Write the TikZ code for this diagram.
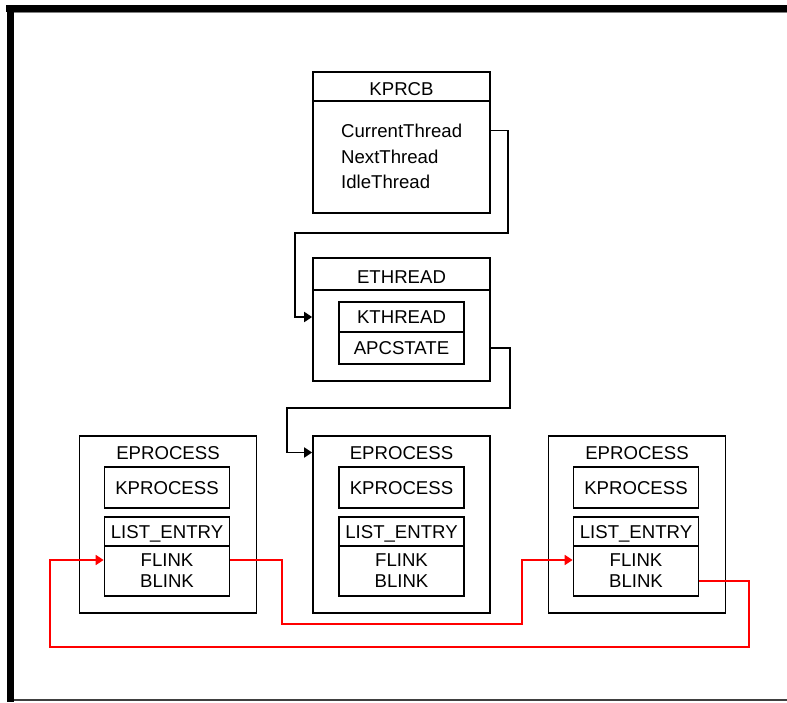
\documentclass[tikz,border=0pt]{standalone}
\usepackage{fontspec}
\setmainfont{Liberation Sans}
\usetikzlibrary{arrows.meta}
\begin{document}
\begin{tikzpicture}[
    x=1pt, y=-1pt,
    every node/.style={font=\fontsize{18.6}{20}\selectfont, text height=13pt, text depth=0pt, inner sep=0pt},
    struct/.style={draw, line width=1.7pt, minimum width=177pt},
    field/.style={draw, line width=1.7pt, minimum width=125pt},
    member/.style={anchor=west},
    ptr/.style={line width=1.7pt, -{Triangle[length=8pt,width=10pt]}},
    link/.style={ptr, red}]
  \useasboundingbox (0,0) rectangle (787,702);
  % window frame
  \fill (6,5) rectangle (787,12);
  \fill (7,5) rectangle (14,702);
  \draw[line width=0.8pt, gray] (14,12.6) -- (787,12.6);
  \draw[line width=1.5pt, black!75] (14,700) -- (787,700);

  % KPRCB
  \node[struct, minimum height=141pt] (kprcb) at (401.5,142.5) {};
  \draw[line width=1.7pt] (kprcb.west |- 0,101) -- (kprcb.east |- 0,101);
  \node (kprcbtitle) at (401.5,88.5) {KPRCB};
  \node[member] (cur) at (341,130.5) {CurrentThread};
  \node[member] (nxt) at (341,156.5) {NextThread};
  \node[member] (idle) at (341,181.5) {IdleThread};

  % ETHREAD
  \node[struct, minimum height=123pt] (ethread) at (401.5,319.5) {};
  \draw[line width=1.7pt] (ethread.west |- 0,290) -- (ethread.east |- 0,290);
  \node (ethreadtitle) at (401.5,276.5) {ETHREAD};
  \node[field, minimum height=30pt] (kthread) at (401.5,317) {KTHREAD};
  \node[field, minimum height=32pt] (apc) at (401.5,348) {APCSTATE};

  % EPROCESS list
  \node[struct, minimum height=177pt] (eproc1) at (168,524.5) {};
  \node (eproctitle1) at (168,452.5) {EPROCESS};
  \node[field, minimum height=41pt] (kproc1) at (167,487.5) {KPROCESS};
  \node[field, minimum height=29pt] (lehead1) at (167,531.5) {LIST\_ENTRY};
  \node[field, minimum height=50pt] (lebody1) at (167,571) {};
  \node (flink1) at (167,560) {FLINK};
  \node (blink1) at (167,581) {BLINK};

  \node[struct, minimum height=177pt] (eproc2) at (401.5,524.5) {};
  \node (eproctitle2) at (401.5,452.5) {EPROCESS};
  \node[field, minimum height=41pt] (kproc2) at (401.5,487.5) {KPROCESS};
  \node[field, minimum height=29pt] (lehead2) at (401.5,531.5) {LIST\_ENTRY};
  \node[field, minimum height=50pt] (lebody2) at (401.5,571) {};
  \node (flink2) at (401.5,560) {FLINK};
  \node (blink2) at (401.5,581) {BLINK};

  \node[struct, minimum height=177pt] (eproc3) at (637,524.5) {};
  \node (eproctitle3) at (637,452.5) {EPROCESS};
  \node[field, minimum height=41pt] (kproc3) at (636,487.5) {KPROCESS};
  \node[field, minimum height=29pt] (lehead3) at (636,531.5) {LIST\_ENTRY};
  \node[field, minimum height=50pt] (lebody3) at (636,571) {};
  \node (flink3) at (636,560) {FLINK};
  \node (blink3) at (636,581) {BLINK};

  % pointers
  \draw[ptr] (kprcb.east |- cur) -| (508,233) -| (295,317) -- (ethread.west |- kthread);
  \draw[ptr] (ethread.east |- apc) -| (510,408) -| (287,452.5) -- (eproc2.west |- eproctitle2);
  \draw[link] (lebody1.east |- flink1) -| (282,624) -| (522,560) -- (lebody3.west |- flink3);
  \draw[link] (lebody3.east |- blink3) -| (749,647) -| (50,560) -- (lebody1.west |- flink1);
\end{tikzpicture}
\end{document}
